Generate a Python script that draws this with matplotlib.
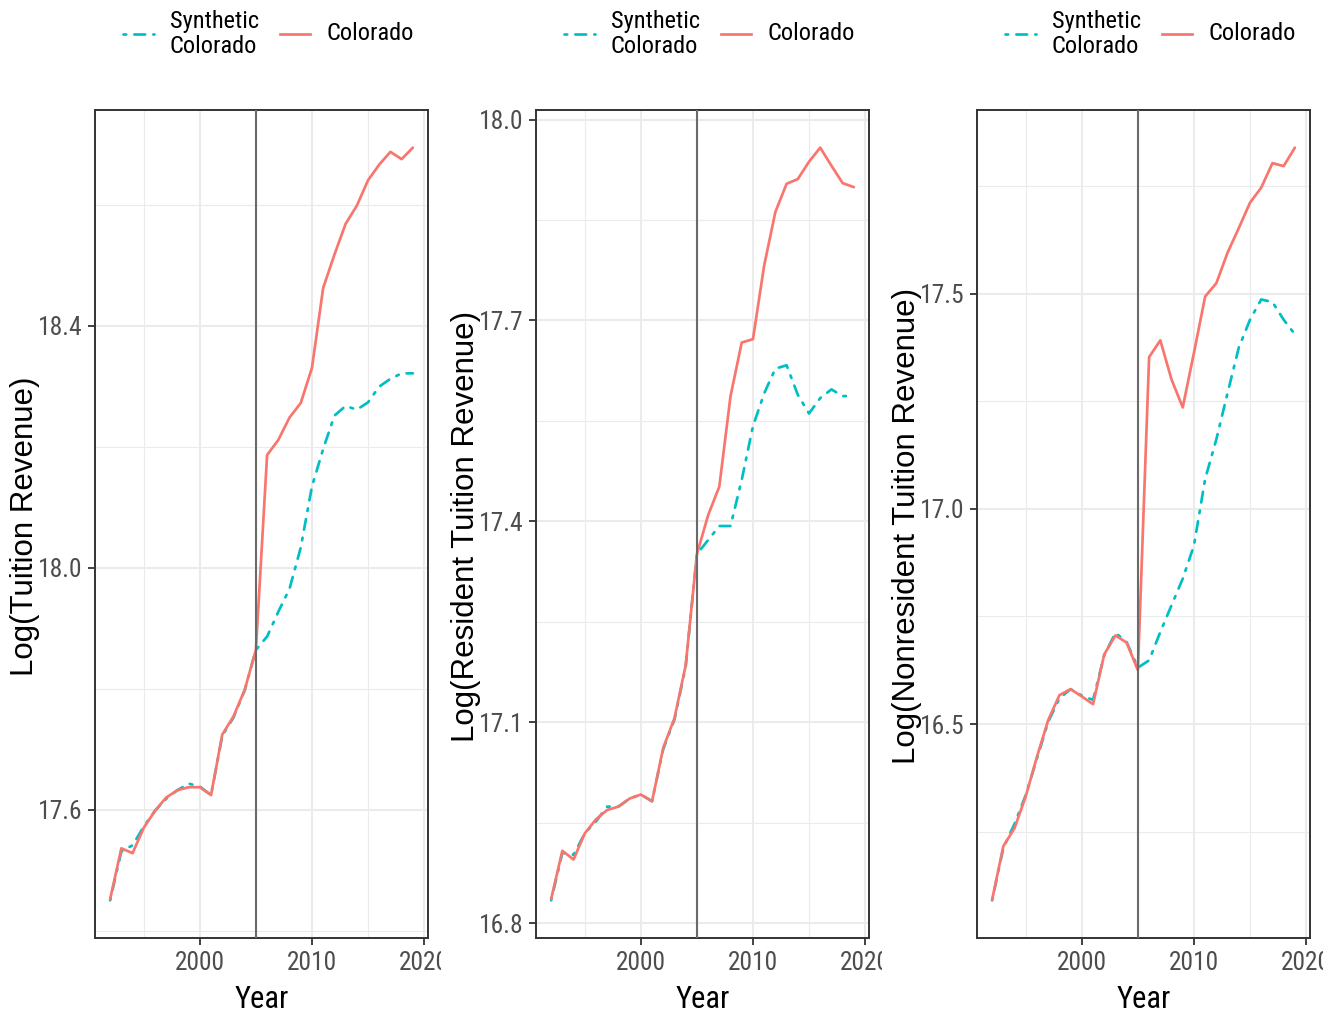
import matplotlib
matplotlib.use("Agg")
import matplotlib.pyplot as plt
from matplotlib.lines import Line2D
from matplotlib.transforms import Bbox
from matplotlib import font_manager as fm

# ---------------- data ----------------
years = list(range(1992, 2020))
treat_year = 2005

tuition_co = [17.452, 17.536, 17.528, 17.570, 17.598, 17.620, 17.632, 17.637, 17.637, 17.624,
              17.724, 17.754, 17.798, 17.864, 18.186, 18.211, 18.248, 18.272, 18.330, 18.462,
              18.517, 18.568, 18.598, 18.640, 18.666, 18.687, 18.675, 18.694]
tuition_syn = [17.450, 17.531, 17.541, 17.572, 17.598, 17.618, 17.632, 17.643, 17.638, 17.624,
               17.722, 17.752, 17.797, 17.864, 17.886, 17.927, 17.965, 18.033, 18.134, 18.196,
               18.251, 18.267, 18.261, 18.273, 18.299, 18.312, 18.321, 18.321]

resident_co = [16.836, 16.908, 16.895, 16.934, 16.955, 16.969, 16.974, 16.986, 16.992, 16.982,
               17.062, 17.106, 17.185, 17.351, 17.409, 17.452, 17.587, 17.667, 17.672, 17.782,
               17.862, 17.904, 17.911, 17.937, 17.958, 17.931, 17.905, 17.899]
resident_syn = [16.834, 16.905, 16.902, 16.934, 16.952, 16.974, 16.974, 16.986, 16.992, 16.982,
                17.060, 17.104, 17.183, 17.351, 17.372, 17.393, 17.393, 17.462, 17.542, 17.591,
                17.628, 17.633, 17.589, 17.561, 17.584, 17.597, 17.587, 17.587]

nonres_co = [16.092, 16.216, 16.258, 16.332, 16.424, 16.509, 16.567, 16.581, 16.564, 16.546,
             16.662, 16.706, 16.689, 16.625, 17.353, 17.392, 17.301, 17.236, 17.363, 17.494,
             17.525, 17.596, 17.653, 17.712, 17.747, 17.804, 17.797, 17.840]
nonres_syn = [16.090, 16.212, 16.268, 16.335, 16.420, 16.505, 16.560, 16.581, 16.566, 16.556,
              16.660, 16.712, 16.690, 16.631, 16.648, 16.714, 16.776, 16.838, 16.915, 17.070,
              17.162, 17.270, 17.375, 17.440, 17.487, 17.481, 17.440, 17.406]

ylabels = ["Log(Tuition Revenue)", "Log(Resident Tuition Revenue)", "Log(Nonresident Tuition Revenue)"]
yticks_major = [[17.6, 18.0, 18.4], [16.8, 17.1, 17.4, 17.7, 18.0], [16.5, 17.0, 17.5]]
yticks_minor = [[17.4, 17.8, 18.2, 18.6], [16.95, 17.25, 17.55, 17.85], [16.25, 16.75, 17.25, 17.75]]
xticks_major = [2000, 2010, 2020]
xticks_minor = [1995, 2005, 2015]
legend_labels = ["Synthetic\nColorado", "Colorado"]
xlabel = "Year"

# ---------------- style ----------------
W, H = 1343, 1017
RED = "#F8766D"
CYAN = "#00BFC4"


def first_font(cands):
    for c in cands:
        try:
            fm.findfont(fm.FontProperties(family=c), fallback_to_default=False)
            return c
        except Exception:
            continue
    return "DejaVu Sans"


NARROW_NAME = first_font(["Liberation Sans Narrow", "Arial Narrow", "Nimbus Sans Narrow",
                          "Roboto Condensed", "PT Sans Narrow", "Archivo Narrow"])
NARROW = [NARROW_NAME, "Liberation Sans", "DejaVu Sans"]
REG = ["Liberation Sans", "DejaVu Sans"]
plt.rcParams["font.family"] = NARROW

fig = plt.figure(figsize=(W / 100, H / 100), dpi=100)

panel_lefts = [95, 536, 977]
panel_w, panel_top, panel_bot = 333, 110, 938
series = [(tuition_co, tuition_syn), (resident_co, resident_syn), (nonres_co, nonres_syn)]
lw = 1.95
dd = (0, (1, 3, 4, 3))

for i, left in enumerate(panel_lefts):
    co, syn = series[i]
    ax = fig.add_axes([left / W, 1 - panel_bot / H, panel_w / W, (panel_bot - panel_top) / H])
    ax.plot(years, syn, color=CYAN, lw=lw, linestyle=dd,
            dash_capstyle="round", solid_capstyle="round", zorder=2)
    ax.plot(years, co, color=RED, lw=lw, solid_capstyle="round", zorder=2.1)
    ax.axvline(treat_year, color="#6A6A6A", lw=1.5, zorder=3)
    ax.margins(x=0.05, y=0.05)

    ax.set_xticks(xticks_major)
    ax.set_xticks(xticks_minor, minor=True)
    ax.set_yticks(yticks_major[i])
    ax.set_yticks(yticks_minor[i], minor=True)
    ax.set_yticklabels([f"{v:.1f}" for v in yticks_major[i]])
    ax.set_axisbelow(True)
    ax.grid(which="major", color="#EBEBEB", lw=1.5)
    ax.grid(which="minor", color="#EBEBEB", lw=0.8)
    ax.tick_params(which="major", direction="out", length=5, width=1.3, color="#333333",
                   labelsize=18.4, labelcolor="#4D4D4D", pad=4)
    ax.tick_params(which="minor", length=0)
    for s in ax.spines.values():
        s.set_color("#333333")
        s.set_linewidth(1.4)

    # clip x tick labels like the reference (cut just right of the panel)
    clip = Bbox.from_extents(0, 0, left + panel_w + 12.5, H)
    for lbl in ax.get_xticklabels():
        lbl.set_clip_on(True)
        lbl.set_clip_box(clip)

    # axis titles
    cx = left + panel_w / 2
    fig.text(cx / W, 1 - 1008 / H, xlabel, ha="center", va="baseline", fontsize=22,
             color="black", family=NARROW)
    fig.text((left - 62) / W, 1 - 526 / H, ylabels[i], rotation=90, rotation_mode="anchor",
             ha="center", va="baseline", fontsize=22.5, color="black", family=REG)

    # legend
    handles = [Line2D([], [], color=CYAN, lw=lw, linestyle=dd, dash_capstyle="round"),
               Line2D([], [], color=RED, lw=lw)]
    leg = fig.legend(handles, legend_labels, loc="center",
                     bbox_to_anchor=((cx + 7) / W, 1 - 34 / H), ncol=2, frameon=False,
                     fontsize=17.6, handlelength=1.25, handletextpad=0.65, columnspacing=0.85,
                     borderpad=0, borderaxespad=0)
    for t in leg.get_texts():
        t.set_linespacing(1.1)
    try:
        hb = leg._legend_handle_box
        hb.align = "center"
        for col in hb.get_children():
            col.align = "center"
            for entry in col.get_children():
                entry.align = "center"
    except Exception:
        pass

fig.savefig("out.png", dpi=100)
